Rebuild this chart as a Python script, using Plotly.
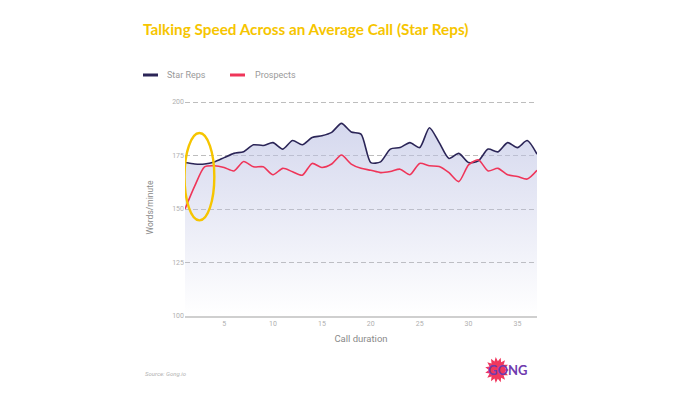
import numpy as np
import plotly.graph_objects as go

minutes = list(range(1, 38))
star_reps = [171.7, 171.0, 171.0, 172.0, 174.0, 176.0, 176.8, 180.0, 179.7, 181.0,
             178.0, 182.0, 180.0, 183.4, 184.2, 185.8, 190.0, 186.0, 185.0, 171.7,
             172.0, 178.0, 178.7, 181.0, 178.7, 188.0, 181.0, 173.6, 176.0, 171.7,
             172.5, 178.0, 176.7, 181.0, 178.7, 182.0, 175.6]
prospects = [150.0, 160.8, 169.7, 170.2, 169.4, 167.8, 172.2, 169.7, 169.7, 166.0,
             169.0, 167.4, 165.8, 171.3, 169.4, 171.0, 175.2, 171.0, 169.0, 168.1,
             167.0, 167.5, 168.6, 166.0, 171.3, 170.2, 169.9, 167.0, 162.8, 170.6,
             173.0, 167.8, 169.0, 166.0, 165.2, 164.0, 168.1]
y_ticks = [100, 125, 150, 175, 200]
x_ticks = [5, 10, 15, 20, 25, 30, 35]
series_names = ["Star Reps", "Prospects"]

NAVY = "#2b2557"
RED = "#ef3559"
GOLD = "#f6c500"
GRAY = "#9a9a9a"

# page body has an 8px margin; figure is sized to fill the rest of the window
OFF = 8
W, H = 700 - OFF, 394 - OFF
PL, PT, PW, PH = 185, 99, 352, 217          # plot area in window pixels
Y_TOP = 201.4                                # headroom so the 200 gridline is drawn


def px2paper(px, py):
    return (px - PL) / PW, (PT + PH - py) / PH


fig = go.Figure()
fig.add_trace(go.Scatter(
    x=minutes, y=star_reps, name=series_names[0], mode="lines",
    line=dict(color=NAVY, width=1.6, shape="spline", smoothing=0.7),
    fill="tozeroy",
    fillgradient=dict(type="vertical", start=100, stop=190,
                      colorscale=[[0, "rgba(187,192,227,0.0)"], [1, "rgba(187,192,227,0.62)"]]),
    showlegend=False,
))
fig.add_trace(go.Scatter(
    x=minutes, y=prospects, name=series_names[1], mode="lines",
    line=dict(color=RED, width=1.6, shape="spline", smoothing=0.7),
    showlegend=False,
))

# highlight ellipse around the call opening
fig.add_shape(type="circle", xref="x", yref="y", x0=0.95, x1=4.0, y0=144.7, y1=185.5,
              line=dict(color=GOLD, width=2.4), layer="above")

# legend (short thick swatches)
for (lx, tx), name, col in zip([(143, 165), (230, 253)], series_names, [NAVY, RED]):
    x0, y0 = px2paper(lx, 75)
    x1, _ = px2paper(lx + 15, 75)
    fig.add_shape(type="line", xref="paper", yref="paper", x0=x0, x1=x1, y0=y0, y1=y0,
                  line=dict(color=col, width=3))
    tx_p, ty_p = px2paper(tx, 75)
    fig.add_annotation(xref="paper", yref="paper", x=tx_p, y=ty_p, xanchor="left",
                       yanchor="middle", text=name, showarrow=False,
                       font=dict(family="Roboto", size=9, color=GRAY))

# starburst logo
n = 30
ang = np.linspace(0, 2 * np.pi, n + 1)[:-1]
rad = np.where(np.arange(n) % 2 == 0, 1.0, 0.68)
cx, cy, sx, sy = 497, 370, 12, 13
pts = [px2paper(cx + sx * r * np.cos(a), cy + sy * r * np.sin(a)) for a, r in zip(ang, rad)]
path = "M " + " L ".join(f"{x:.4f},{y:.4f}" for x, y in pts) + " Z"
fig.add_shape(type="path", xref="paper", yref="paper", path=path,
              fillcolor="#f0375e", line=dict(width=0), layer="above")
gx, gy = px2paper(507, 370)
fig.add_annotation(xref="paper", yref="paper", x=gx, y=gy, xanchor="center", yanchor="middle",
                   text="<b>GONG</b>", showarrow=False,
                   font=dict(family="Lato", size=13, color="#6f3aae"))
sx_p, sy_p = px2paper(143, 373)
fig.add_annotation(xref="paper", yref="paper", x=sx_p, y=sy_p, xanchor="left", yanchor="middle",
                   text="<i>Source: Gong.io</i>", showarrow=False,
                   font=dict(family="Roboto", size=6, color="#b0b0b0"))

fig.update_layout(
    width=W, height=H,
    margin=dict(l=PL - OFF, r=W - (PL - OFF) - PW, t=PT - OFF, b=H - (PT - OFF) - PH),
    paper_bgcolor="white", plot_bgcolor="white",
    showlegend=False,
    title=dict(text="<b>Talking Speed Across an Average Call (Star Reps)</b>",
               x=(143 - OFF) / W, xanchor="left", y=1 - (30 - OFF) / H, yanchor="middle",
               font=dict(family="Lato", size=15.3, color=GOLD)),
    xaxis=dict(range=[1, 37], tickvals=x_ticks, showgrid=False, zeroline=False,
               showline=True, linecolor="#cfcfcf", linewidth=2,
               tickfont=dict(family="Roboto", size=7, color="#b0b0b0"),
               title=dict(text="Call duration", standoff=8,
                          font=dict(family="Roboto", size=9.5, color="#8a8a8a"))),
    yaxis=dict(range=[100, Y_TOP], tickvals=y_ticks, showgrid=True, gridcolor="#bdbdbd",
               griddash="5px,3px", gridwidth=1, zeroline=False,
               tickfont=dict(family="Roboto", size=7, color="#b0b0b0"),
               title=dict(text="Words/minute", standoff=17,
                          font=dict(family="Roboto", size=8.5, color="#8a8a8a"))),
)

fig.write_html("out.html")
